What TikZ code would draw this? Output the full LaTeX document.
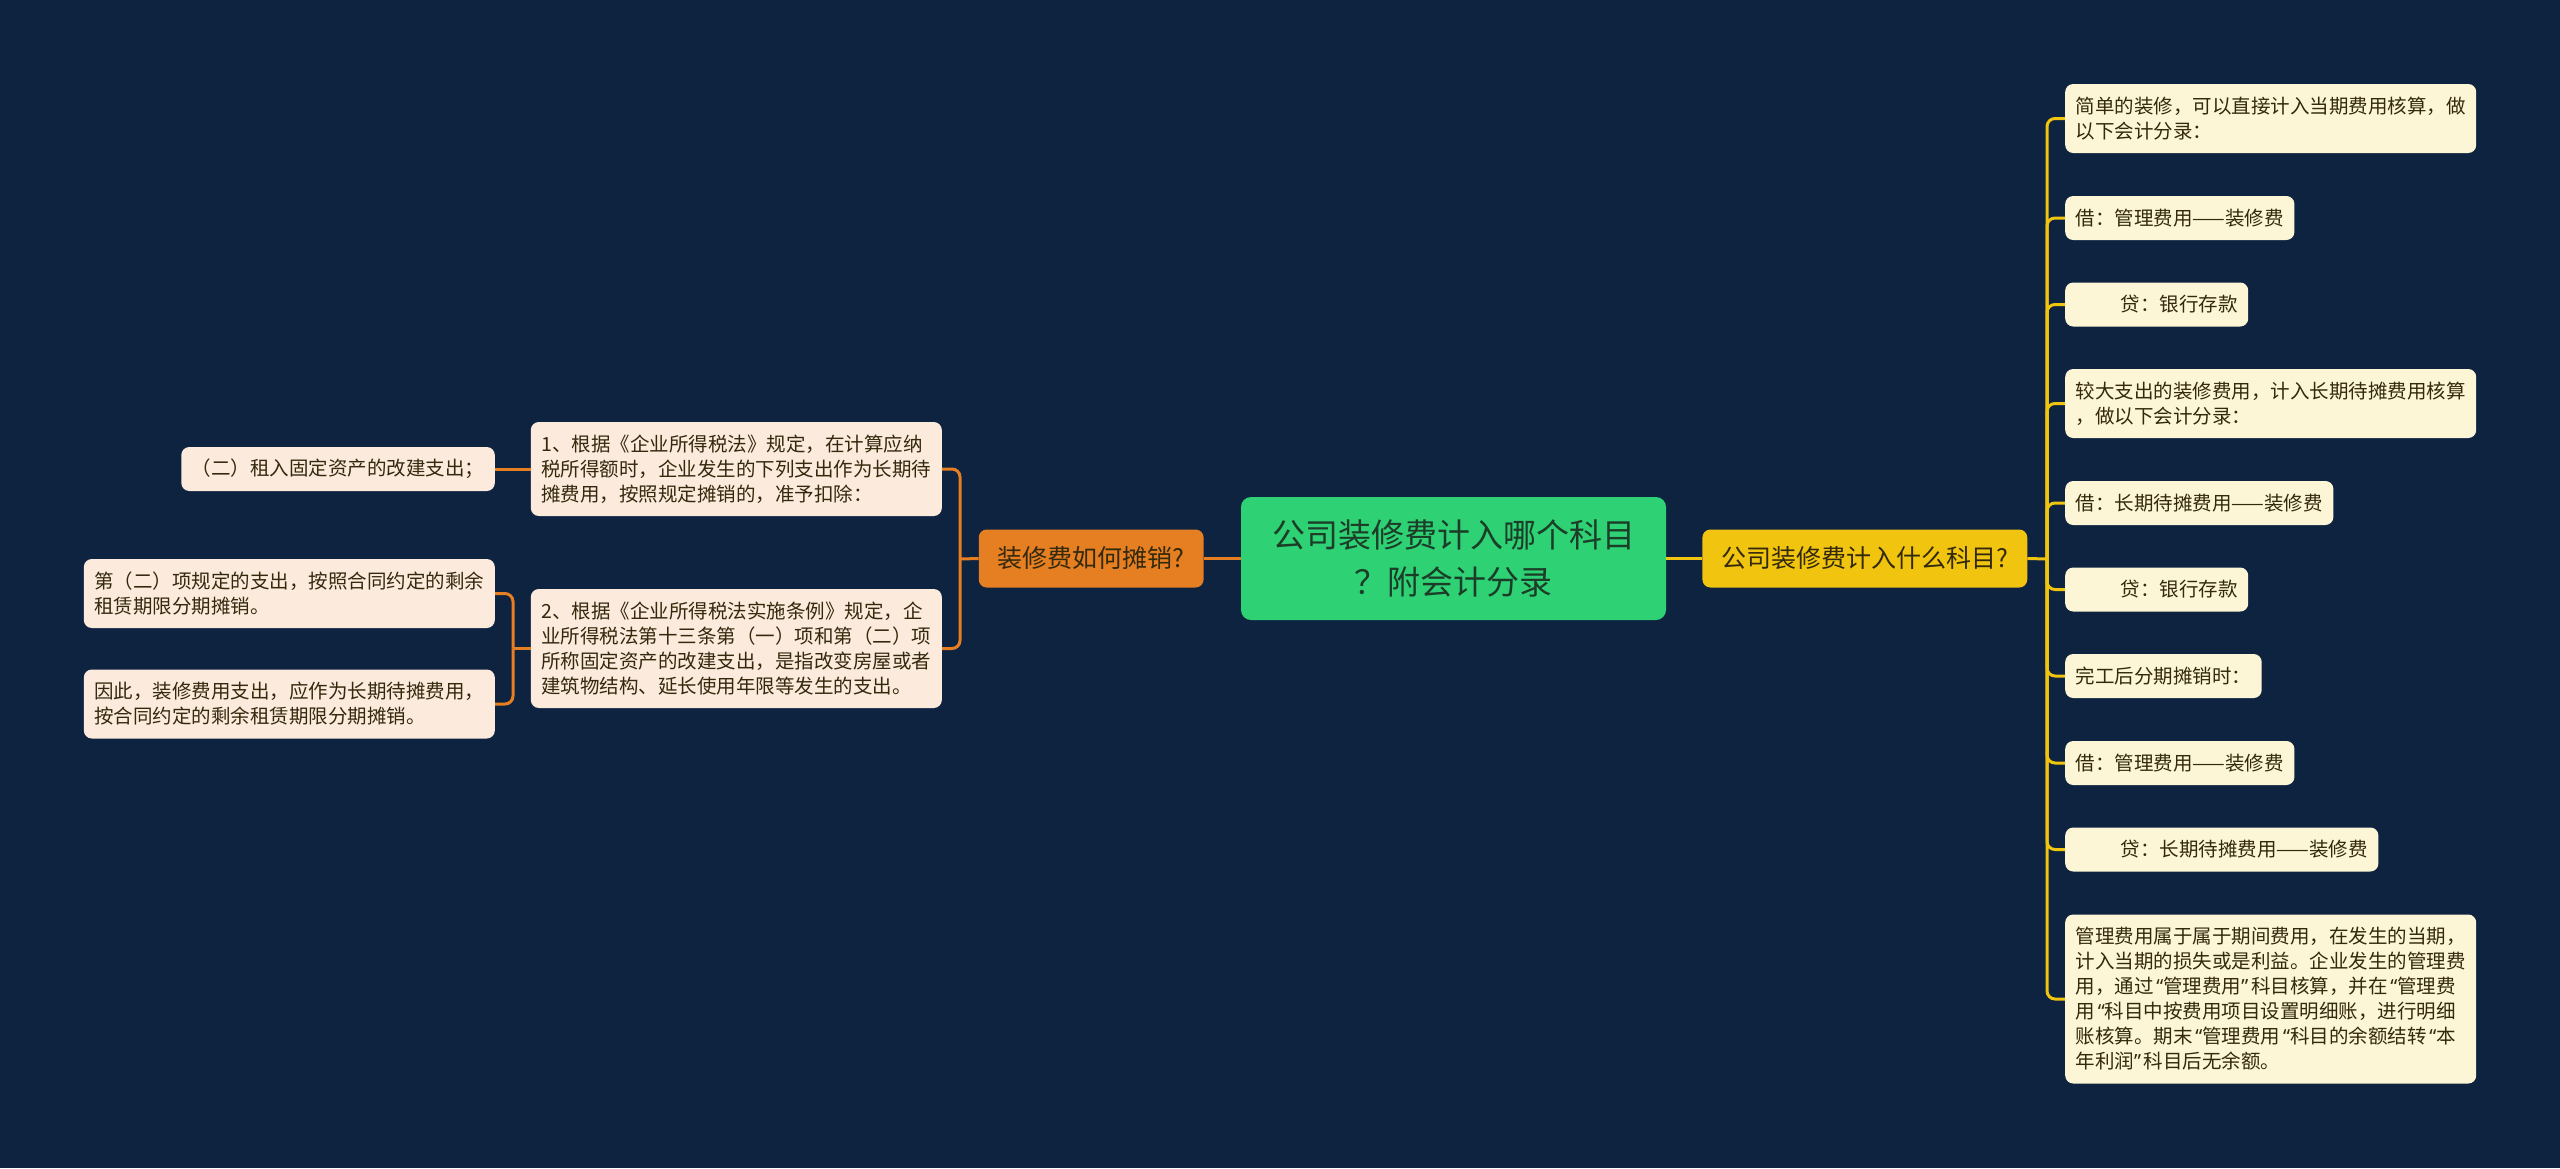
\documentclass[tikz,border=0pt]{standalone}
\usepackage{fontspec}
\setmainfont{Noto Sans CJK SC}
\newfontfamily\latinfont{Noto Sans}
\usepackage{tikz}
\usetikzlibrary{positioning}
\definecolor{night}{RGB}{13,35,64}
\definecolor{mint}{RGB}{46,209,116}
\definecolor{sun}{RGB}{241,196,15}
\definecolor{carrot}{RGB}{230,126,34}
\definecolor{cream}{RGB}{253,246,214}
\definecolor{peach}{RGB}{252,235,220}
\definecolor{ink}{RGB}{51,41,13}
\definecolor{rootink}{RGB}{28,62,40}
% half-width quotes
\newcommand\qo{\makebox[0.5em][r]{\latinfont “}}
\newcommand\qc{\makebox[0.5em][l]{\latinfont ”}}

\begin{document}
\begin{tikzpicture}[x=1pt, y=-1pt,
    root/.style = {shape=rectangle, rounded corners=10pt, fill=mint, text=rootink, align=center, minimum width=425pt, minimum height=123pt, font=\fontsize{33}{47}\selectfont},
    topic/.style = {shape=rectangle, rounded corners=8pt, text=ink, inner xsep=19pt, minimum height=58pt, font=\fontsize{25}{30}\selectfont},
    item/.style = {shape=rectangle, rounded corners=8pt, text=ink, align=left, inner xsep=10.5pt, inner ysep=0pt, minimum height={19pt+25pt*#1}, font=\fontsize{19.5}{25}\selectfont},
    rleaf/.style = {item=#1, fill=cream, anchor=west}, rleaf/.default=1,
    lleaf/.style = {item=#1, fill=peach, anchor=east}, lleaf/.default=1,
    wide/.style = {text width=390pt},
    sunline/.style = {draw=sun, line width=3pt, rounded corners=8pt},
    carrotline/.style = {draw=carrot, line width=3pt, rounded corners=8pt}]
  \fill[night] (0,0) rectangle (2560,1168);
  \useasboundingbox (0,0) rectangle (2560,1168);

  % centre and first level
  \node[root] (root) at (1453.5,558.5) {公司装修费计入哪个科目\\？附会计分录};
  \node[topic, fill=sun, right=36pt of root] (acct) {公司装修费计入什么科目?};
  \node[topic, fill=carrot, left=37pt of root] (amort) {装修费如何摊销?};

  % right side
  \node[rleaf=2, wide] (r1) at (2065,118.5) {简单的装修，可以直接计入当期费用核算，做\\以下会计分录：};
  \node[rleaf] (r2) at (2065,218) {借：管理费用——装修费};
  \node[rleaf] (r3) at (2065,304.5) {\hspace*{45pt}贷：银行存款};
  \node[rleaf=2, wide] (r4) at (2065,403.5) {较大支出的装修费用，计入长期待摊费用核算\\，做以下会计分录：};
  \node[rleaf] (r5) at (2065,503) {借：长期待摊费用——装修费};
  \node[rleaf] (r6) at (2065,589.5) {\hspace*{45pt}贷：银行存款};
  \node[rleaf] (r7) at (2065,676) {完工后分期摊销时：};
  \node[rleaf] (r8) at (2065,763) {借：管理费用——装修费};
  \node[rleaf] (r9) at (2065,849.5) {\hspace*{45pt}贷：长期待摊费用——装修费};
  \node[rleaf=6, wide] (r10) at (2065,999) {管理费用属于属于期间费用，在发生的当期，\\计入当期的损失或是利益。企业发生的管理费\\用，通过\qo 管理费用\qc 科目核算，并在\qo 管理费\\用\qo 科目中按费用项目设置明细账，进行明细\\账核算。期末\qo 管理费用\qo 科目的余额结转\qo 本\\年利润\qc 科目后无余额。};

  % left side
  \node[lleaf=3, wide] (l1) at (942,469) {1、根据《企业所得税法》规定，在计算应纳\\税所得额时，企业发生的下列支出作为长期待\\摊费用，按照规定摊销的，准予扣除：};
  \node[lleaf=4, wide] (l2) at (942,648.5) {2、根据《企业所得税法实施条例》规定，企\\业所得税法第十三条第（一）项和第（二）项\\所称固定资产的改建支出，是指改变房屋或者\\建筑物结构、延长使用年限等发生的支出。};
  \node[lleaf] (l1a) at (495,469) {（二）租入固定资产的改建支出；};
  \node[lleaf=2, wide] (l2a) at (495,593.5) {第（二）项规定的支出，按照合同约定的剩余\\租赁期限分期摊销。};
  \node[lleaf=2, wide] (l2b) at (495,704) {因此，装修费用支出，应作为长期待摊费用，\\按合同约定的剩余租赁期限分期摊销。};

  % connectors
  \draw[sunline] (root.east) -- (acct.west);
  \draw[carrotline] (root.west) -- (amort.east);
  \coordinate (acctfork) at (2047,559);
  \draw[sunline] (acct.east) -- (acctfork);
  \foreach \n in {r1,r2,r3,r4,r5,r6,r7,r8,r9,r10}
    \draw[sunline] (acctfork) |- (\n.west);
  \coordinate (amortfork) at (960,559);
  \draw[carrotline] (amort.west) -- (amortfork);
  \foreach \n in {l1,l2}
    \draw[carrotline] (amortfork) |- (\n.east);
  \draw[carrotline] (l1.west) -- (l1a.east);
  \coordinate (l2fork) at (513,648.5);
  \draw[carrotline] (l2.west) -- (l2fork);
  \foreach \n in {l2a,l2b}
    \draw[carrotline] (l2fork) |- (\n.east);
\end{tikzpicture}
\end{document}
